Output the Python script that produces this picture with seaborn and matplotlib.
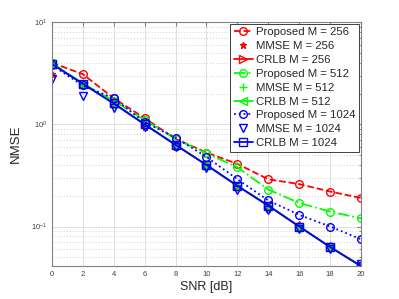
import matplotlib
matplotlib.use("Agg")
import matplotlib.pyplot as plt
import seaborn as sns
import numpy as np

# --- data ---
snr = [0, 2, 4, 6, 8, 10, 12, 14, 16, 18, 20]

prop_256 = [4.0, 3.1, 1.8, 1.15, 0.72, 0.53, 0.41, 0.29, 0.26, 0.22, 0.19]
mmse_256 = [3.1, 2.4, 1.55, 0.95, 0.60, 0.40, 0.25, 0.15, 0.105, 0.066, 0.042]
crlb_256 = [3.9, 2.5, 1.6, 1.0, 0.63, 0.40, 0.25, 0.16, 0.10, 0.063, 0.041]

prop_512 = [4.0, 2.5, 1.7, 1.1, 0.72, 0.52, 0.38, 0.23, 0.17, 0.14, 0.12]
mmse_512 = [3.9, 2.45, 1.55, 0.98, 0.60, 0.39, 0.245, 0.155, 0.10, 0.063, 0.042]
crlb_512 = [3.9, 2.5, 1.6, 1.0, 0.63, 0.40, 0.25, 0.16, 0.10, 0.063, 0.041]

prop_1024 = [3.8, 2.4, 1.8, 1.05, 0.74, 0.48, 0.29, 0.18, 0.13, 0.10, 0.075]
mmse_1024 = [2.75, 1.9, 1.45, 0.95, 0.60, 0.37, 0.23, 0.145, 0.095, 0.06, 0.043]
crlb_1024 = [3.9, 2.5, 1.6, 1.0, 0.63, 0.40, 0.25, 0.16, 0.10, 0.063, 0.041]

series = [
    ("Proposed M = 256", prop_256, "red", "--", "o"),
    ("MMSE M = 256", mmse_256, "red", "None", "*"),
    ("CRLB M = 256", crlb_256, "red", "-", ">"),
    ("Proposed M = 512", prop_512, "lime", "-.", "o"),
    ("MMSE M = 512", mmse_512, "lime", "None", "+"),
    ("CRLB M = 512", crlb_512, "lime", "-", "<"),
    ("Proposed M = 1024", prop_1024, "blue", ":", "o"),
    ("MMSE M = 1024", mmse_1024, "blue", "None", "v"),
    ("CRLB M = 1024", crlb_1024, "blue", "-", "s"),
]

sns.set_style("white")
plt.rcParams["font.family"] = ["Liberation Sans", "DejaVu Sans"]
plt.rcParams["mathtext.fontset"] = "custom"
plt.rcParams["mathtext.rm"] = "Liberation Sans"

fig = plt.figure(figsize=(3.99, 2.99), dpi=100)
ax = fig.add_axes([0.130, 0.110, 0.775, 0.816])

for name, vals, col, ls, mk in series:
    filled = mk in ("*", "+")
    sns.lineplot(x=snr, y=vals, ax=ax, color=col, linestyle=ls, linewidth=1.3,
                 marker=mk, markersize=5.5 if mk != "*" else 4.5,
                 markerfacecolor=col if filled else "none",
                 markeredgecolor=col, markeredgewidth=1.0,
                 label=name, errorbar=None)

ax.set_yscale("log")
ax.set_xlim(0, 20)
ax.set_ylim(0.041, 10)
ax.set_xticks(range(0, 21, 2))

ax.grid(True, which="major", color="#e0e0e0", linewidth=0.7, linestyle="-")
ax.grid(True, which="minor", color="#c0c0c0", linewidth=0.6, linestyle=(0, (1, 2.5)))
ax.set_axisbelow(True)

for s in ax.spines.values():
    s.set_color("#808080")
    s.set_linewidth(0.8)
ax.tick_params(which="both", direction="in", colors="#404040", labelsize=5.5,
               top=True, right=True, length=3)
ax.tick_params(which="minor", length=1.8)
ax.tick_params(axis="both", which="both", color="#808080")

ax.set_xlabel("SNR [dB]", fontsize=9, color="#262626", labelpad=2)
ax.set_ylabel("NMSE", fontsize=9.5, color="#262626", labelpad=6)

leg = ax.legend(loc="upper right", fontsize=8.2, labelspacing=0.34,
                handlelength=1.7, handletextpad=0.3, borderpad=0.3,
                borderaxespad=0.15, fancybox=False, framealpha=1.0)
leg.get_frame().set_edgecolor("#404040")
leg.get_frame().set_linewidth(0.7)

fig.savefig("out.png", dpi=100)
